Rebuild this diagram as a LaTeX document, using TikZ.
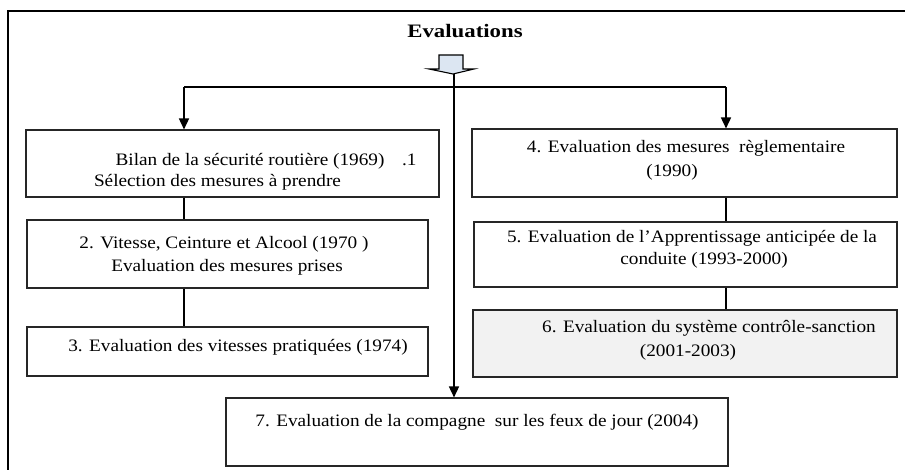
\documentclass[tikz,border=0pt]{standalone}
\usepackage{fontspec}
\setmainfont[FakeStretch=1.1]{Liberation Serif}
\newfontfamily\headfont[FakeStretch=1.2]{Liberation Serif}
\usetikzlibrary{arrows.meta}
\definecolor{arrowfill}{HTML}{DCE6F2}
\definecolor{shade}{HTML}{F2F2F2}
\begin{document}
\begin{tikzpicture}[x=1pt,y=-1pt,
  box/.style={draw=black!85,line width=1.1pt,inner sep=0pt},
  lbl/.style={inner sep=0pt,font=\fontsize{17.5}{21}\selectfont},
  link/.style={line width=1.2pt},
  flow/.style={line width=1.6pt,-{Triangle[length=11pt,width=10pt]}}]
\useasboundingbox (0,0) rectangle (905,470);
% outer frame (left and top edges)
\draw[line width=1.5pt] (8,470) -- (8,11) -- (905,11);
\node[inner sep=0pt,font=\headfont\fontsize{19}{22}\selectfont\bfseries] (title) at (465,31) {Evaluations};

% boxes
\node[box,minimum width=413pt,minimum height=67pt] (b1) at (232.5,163.5) {};
\node[box,minimum width=401pt,minimum height=68pt] (b2) at (227.5,254) {};
\node[box,minimum width=401pt,minimum height=49pt] (b3) at (227.5,351.5) {};
\node[box,minimum width=425pt,minimum height=68pt] (b4) at (684.5,163) {};
\node[box,minimum width=423pt,minimum height=65pt] (b5) at (685.5,254.5) {};
\node[box,fill=shade,minimum width=424pt,minimum height=67pt] (b6) at (685,343.5) {};
\node[box,minimum width=502pt,minimum height=68pt] (b7) at (477,432) {};

% labels
\node[lbl] (t1a) at (266,161) {Bilan de la sécurité routière (1969)\quad.1};
\node[lbl] (t1b) at (217.5,182) {Sélection des mesures à prendre};
\node[lbl] (t2a) at (224,244) {2. Vitesse, Ceinture et Alcool (1970 )};
\node[lbl] (t2b) at (227,267) {Evaluation des mesures prises};
\node[lbl] (t3) at (238,347) {3. Evaluation des vitesses pratiquées (1974)};
\node[lbl] (t4a) at (686,148) {4. Evaluation des mesures\ \ règlementaire};
\node[lbl] (t4b) at (672,172) {(1990)};
\node[lbl] (t5a) at (692,238) {5. Evaluation de l’Apprentissage anticipée de la};
\node[lbl] (t5b) at (704,260) {conduite (1993-2000)};
\node[lbl] (t6a) at (709,328) {6. Evaluation du système contrôle-sanction};
\node[lbl] (t6b) at (688,352) {(2001-2003)};
\node[lbl] (t7) at (477,422) {7. Evaluation de la compagne\ \ sur les feux de jour (2004)};

% block arrow under the title
\draw[line width=1.1pt,fill=arrowfill] (439,55) -- (463,55) -- (463,69) -- (474,69)
  -- (453,74) -- (429,69) -- (439,69) -- cycle;
\coordinate (src) at (454,74);
\coordinate (hl) at (184,87);
\coordinate (hr) at (726,87);

% distribution lines
\draw[line width=1.5pt] (hl) -- (hr);
\draw[flow] (hl) -- (b1.north -| hl);
\draw[flow] (hr) -- (b4.north -| hr);
\draw[flow] (src) -- (b7.north -| src);

% links between stacked boxes
\draw[link] (b1.south -| hl) -- (b2.north -| hl);
\draw[link] (b2.south -| hl) -- (b3.north -| hl);
\draw[link] (b4.south -| hr) -- (b5.north -| hr);
\draw[link] (b5.south -| hr) -- (b6.north -| hr);
\end{tikzpicture}
\end{document}
